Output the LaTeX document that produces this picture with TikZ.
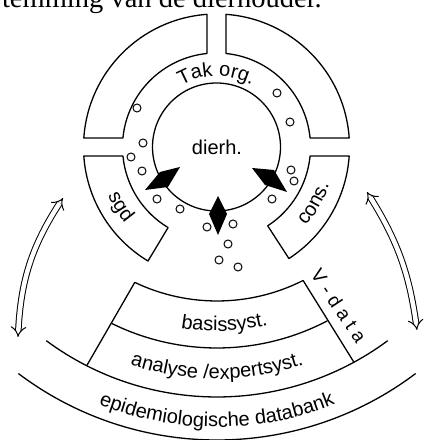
\documentclass[tikz,border=0pt]{standalone}
\usepackage{fontspec}
\setmainfont{Liberation Serif}
\newfontfamily\labelfont{Liberation Sans}
\usetikzlibrary{calc}
\usetikzlibrary{arrows.meta}
\usetikzlibrary{decorations.text}

\tikzset{
  ring/.style={line width=1.3pt, line join=round},
  bubble/.style={line width=1pt},
  flow/.style={double, double distance=4.5pt, line width=1pt,
      {Implies[length=7pt, width=15pt]}-{Implies[length=7pt, width=15pt]}},
  curvelabel/.style={decorate, decoration={text along path, text align=center,
      text={|\labelfont\fontsize{20}{20}\selectfont|#1}}}
}

\begin{document}
\begin{tikzpicture}[x=1pt,y=1pt]
        \useasboundingbox (0,0) rectangle (425,440);
        \coordinate (c) at (216.5,293);
        \coordinate (l) at (217,330);
        \node[anchor=base east, inner sep=0pt, font=\fontsize{28.5}{30}\selectfont] (caption) at (322,432) {temming van de dierhouder.};
        % ring round the animal holder
        \draw[ring] ([shift={(94.1:133)}]c) arc[start angle=94.1, end angle=176.1, radius=133] -- ([shift={(174.5:94)}]c) arc[start angle=174.5, end angle=95.8, radius=94] -- cycle;
        \draw[ring] ([shift={(3.9:133)}]c) arc[start angle=3.9, end angle=85.9, radius=133] -- ([shift={(84.2:94)}]c) arc[start angle=84.2, end angle=5.5, radius=94] -- cycle;
        \draw[ring] ([shift={(183.9:133)}]c) arc[start angle=183.9, end angle=239, radius=133] -- ([shift={(239:94)}]c) arc[start angle=239, end angle=185.5, radius=94] -- cycle;
        \draw[ring] ([shift={(-57:133)}]c) arc[start angle=-57, end angle=-3.9, radius=133] -- ([shift={(-5.5:94)}]c) arc[start angle=-5.5, end angle=-57, radius=94] -- cycle;
        \draw[ring] (c) circle[radius=64];
        \node[font=\labelfont\fontsize{20}{20}\selectfont] (dierh) at (217,293) {dierh.};
        \path[shift={(c)}, curvelabel={Tak org.}] plot[domain=140:40, samples=60] (\x:71);
        \path[shift={(c)}, curvelabel={sgd}] plot[domain=190:234, samples=40] (\x:119);
        \path[shift={(c)}, curvelabel={cons.}] plot[domain=-55:-5, samples=40] (\x:119);
        \fill (145,250) -- (160,268) -- (180,273) -- (168,253) -- cycle;
        \fill (252,272) -- (274,270) -- (287,248) -- (265,255) -- cycle;
        \fill (218,244) -- (227,226) -- (218,205) -- (209,226) -- cycle;
        \foreach \p in {(277,347),(290,318),(137,332),(143,297),(131,283),(142,269),
            (291,270),(294,259),(157,241),(180,231),(272,241),
            (207,213),(233,216),(228,196),(219,180),(238,173)}
          \draw[bubble] \p circle[radius=4];
        % data systems below
        \draw[ring] ([shift={(-117:287)}]l) -- ([shift={(-115.5:191)}]l) arc[start angle=-115.5, end angle=-63.2, radius=191] -- ([shift={(-61.5:287)}]l);
        \draw[ring] ([shift={(-116.3:238)}]l) arc[start angle=-116.3, end angle=-62.4, radius=238];
        \draw[ring] ([shift={(-126.5:287)}]l) arc[start angle=-126.5, end angle=-53.5, radius=287];
        \draw[ring] ([shift={(-127:330)}]l) arc[start angle=-127, end angle=-53, radius=330];
        \path[shift={(l)}, curvelabel={basissyst.}] plot[domain=-113:-63, samples=60] (\x:221);
        \path[shift={(l)}, curvelabel={analyse /expertsyst.}] plot[domain=-120:-60, samples=80] (\x:269);
        \path[shift={(l)}, curvelabel={epidemiologische databank}] plot[domain=-120:-60, samples=100] (\x:317);
        \coordinate (vtop) at (310,165);
        \coordinate (vbot) at (356.5,95.3);
        \path[decorate, decoration={text along path, text align={fit to path},
            text={|\labelfont\fontsize{19}{19}\selectfont|V-data}}] (vtop) -- (vbot);
        % exchange arrows
        \coordinate (la) at (18,103);
        \coordinate (lb) at (63,242);
        \coordinate (ra) at (367,248);
        \coordinate (rb) at (417,110);
        \draw[flow] (la) to[bend left=15] (lb);
        \draw[flow] (ra) to[bend left=12] (rb);
    \end{tikzpicture}
\end{document}
